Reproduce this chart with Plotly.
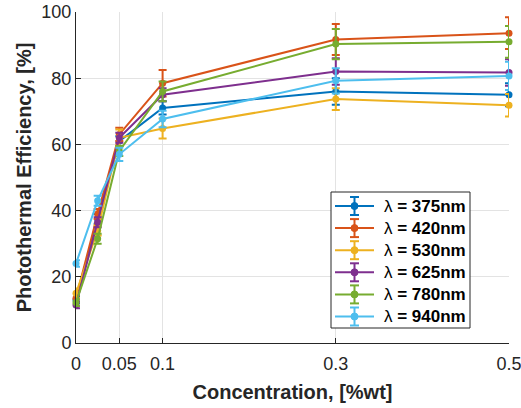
import plotly.graph_objects as go

# Concentration levels (%wt)
concentration = [0, 0.025, 0.05, 0.1, 0.3, 0.5]

# Photothermal efficiency (%) per wavelength, with error half-widths
eff_375 = [13.0, 37.5, 61.0, 71.0, 76.0, 75.0]
eff_420 = [13.5, 39.0, 63.0, 78.5, 91.7, 93.6]
eff_530 = [15.0, 34.0, 62.0, 64.8, 73.7, 71.8]
eff_625 = [11.5, 36.5, 62.0, 75.0, 82.0, 81.7]
eff_780 = [12.2, 31.5, 58.0, 76.0, 90.3, 91.0]
eff_940 = [24.0, 43.0, 57.0, 67.7, 79.2, 80.7]

err_375 = [1.0, 1.5, 1.5, 2.0, 4.0, 3.5]
err_420 = [1.0, 1.5, 2.0, 4.0, 4.7, 4.8]
err_530 = [1.5, 1.5, 2.5, 3.0, 3.3, 3.4]
err_625 = [1.0, 1.5, 1.5, 2.0, 4.0, 4.0]
err_780 = [1.0, 1.5, 1.5, 3.0, 4.6, 4.8]
err_940 = [1.0, 1.5, 2.0, 2.5, 3.8, 4.3]

wavelengths = ["375", "420", "530", "625", "780", "940"]
series = [eff_375, eff_420, eff_530, eff_625, eff_780, eff_940]
errors = [err_375, err_420, err_530, err_625, err_780, err_940]
colors = ["#0072BD", "#D95319", "#EDB120", "#7E2F8E", "#77AC30", "#4DBEEE"]

x_ticks = [0, 0.05, 0.1, 0.3, 0.5]
x_tick_text = ["0", "0.05", "0.1", "0.3", "0.5"]
y_ticks = [0, 20, 40, 60, 80, 100]

W, H = 521, 408
M_L, M_R, M_T, M_B = 76, 12, 12, 65
PLOT_W = W - M_L - M_R
PLOT_H = H - M_T - M_B


def px_x(px):
    """Horizontal pixel position -> paper fraction."""
    return (px - M_L) / PLOT_W


def px_y(py):
    """Vertical pixel position (from top) -> paper fraction."""
    return (H - M_B - py) / PLOT_H


fig = go.Figure()
for wl, y, e, c in zip(wavelengths, series, errors, colors):
    fig.add_trace(go.Scatter(
        x=concentration, y=y, name=f"λ = {wl}nm", mode="lines+markers",
        line=dict(color=c, width=2),
        marker=dict(color=c, size=7, symbol="circle"),
        error_y=dict(type="data", array=e, visible=True, color=c,
                     thickness=2, width=4),
        cliponaxis=False, showlegend=False,
    ))

font_family = "Liberation Sans, Arial, sans-serif"
axis_color = "#262626"

# Legend box with error-bar glyphs
shapes = []
annotations = []
box_l, box_r, box_t, box_b = 331, 470, 192, 328
shapes.append(dict(type="rect", xref="paper", yref="paper",
                   x0=px_x(box_l), x1=px_x(box_r), y0=px_y(box_b), y1=px_y(box_t),
                   line=dict(color=axis_color, width=1), fillcolor="white", layer="above"))
row0, row_step = 206, 22.1
for i, (wl, c) in enumerate(zip(wavelengths, colors)):
    yc = row0 + i * row_step
    # horizontal line sample
    shapes.append(dict(type="line", xref="paper", yref="paper",
                       x0=px_x(335), x1=px_x(374), y0=px_y(yc), y1=px_y(yc),
                       line=dict(color=c, width=2), layer="above"))
    # vertical error bar with caps
    shapes.append(dict(type="line", xref="paper", yref="paper",
                       x0=px_x(354.5), x1=px_x(354.5), y0=px_y(yc - 9), y1=px_y(yc + 9),
                       line=dict(color=c, width=2), layer="above"))
    for cap in (yc - 9, yc + 9):
        shapes.append(dict(type="line", xref="paper", yref="paper",
                           x0=px_x(350), x1=px_x(359), y0=px_y(cap), y1=px_y(cap),
                           line=dict(color=c, width=2), layer="above"))
    shapes.append(dict(type="circle", xref="paper", yref="paper",
                       x0=px_x(351), x1=px_x(358), y0=px_y(yc + 3.5), y1=px_y(yc - 3.5),
                       line=dict(color=c, width=1), fillcolor=c, layer="above"))
    annotations.append(dict(xref="paper", yref="paper", x=px_x(382), y=px_y(yc),
                            xanchor="left", yanchor="middle", showarrow=False,
                            text=f"λ<b> = {wl}nm</b>",
                            font=dict(family=font_family, size=17, color="#000000")))

fig.update_layout(
    width=W, height=H,
    margin=dict(l=M_L, r=M_R, t=M_T, b=M_B),
    paper_bgcolor="white", plot_bgcolor="white",
    font=dict(family=font_family, size=18, color=axis_color),
    showlegend=False,
    shapes=shapes, annotations=annotations,
    xaxis=dict(
        range=[0, 0.5], tickvals=x_ticks, ticktext=x_tick_text,
        showgrid=True, gridcolor="#e3e3e3", gridwidth=1,
        showline=True, linecolor=axis_color, linewidth=1,
        ticks="inside", ticklen=5, tickcolor=axis_color,
        zeroline=False, tickfont=dict(size=18, color=axis_color),
        ticklabelstandoff=4, ticklabeloverflow="allow", automargin=False,
        title=dict(text="Concentration, [%wt]", standoff=12,
                   font=dict(size=20, color=axis_color, weight="bold")),
    ),
    yaxis=dict(
        range=[0, 100], tickvals=y_ticks,
        showgrid=True, gridcolor="#e3e3e3", gridwidth=1,
        showline=True, linecolor=axis_color, linewidth=1,
        ticks="inside", ticklen=5, tickcolor=axis_color,
        zeroline=False, tickfont=dict(size=18, color=axis_color),
        ticklabeloverflow="allow", automargin=False,
        title=dict(text="Photothermal Efficiency, [%]", standoff=4,
                   font=dict(size=20, color=axis_color, weight="bold")),
    ),
)

fig.write_html("out.html")
